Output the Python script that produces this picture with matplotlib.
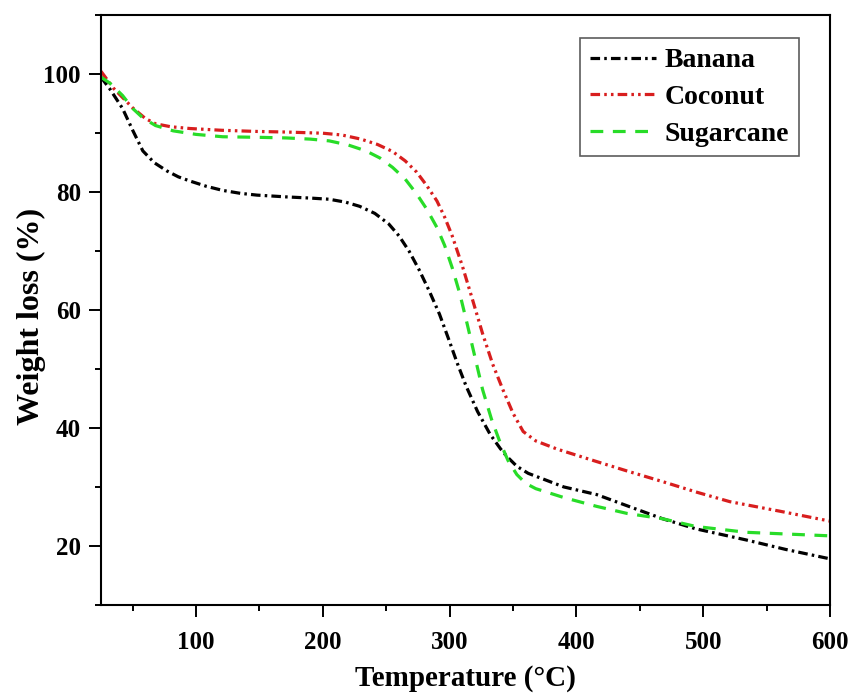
import numpy as np
import matplotlib.pyplot as plt

# temperature (deg C) and weight (%)
temp_banana = [25, 32, 42, 50, 58, 67, 77, 86, 95, 108, 121, 135, 148, 171, 190, 205,
               218, 229, 241, 252, 260, 268, 276, 284, 292, 299, 306, 313, 322, 332,
               340, 345, 353, 362, 373, 390, 416, 440, 468, 494, 534, 565, 600]
wt_banana = [99.5, 97.5, 94.2, 90.5, 87.0, 85.0, 83.6, 82.6, 81.9, 81.0, 80.3, 79.8, 79.5,
             79.2, 79.0, 78.8, 78.3, 77.6, 76.4, 74.6, 72.6, 70.0, 66.8, 63.2, 59.3,
             55.2, 51.0, 47.1, 42.8, 38.9, 36.5, 35.2, 33.5, 32.3, 31.4, 30.0, 28.7,
             26.8, 24.6, 22.9, 21.0, 19.4, 17.8]

temp_coconut = [25, 35, 50, 60, 68, 80, 95, 120, 148, 171, 200, 215, 230, 243, 255, 265,
                274, 282, 290, 296, 302, 310, 318, 326, 334, 342, 350, 358, 368, 385,
                416, 440, 468, 495, 521, 560, 600]
wt_coconut = [100.5, 97.6, 94.3, 92.5, 91.6, 91.1, 90.8, 90.5, 90.3, 90.2, 90.0, 89.7,
              89.0, 88.1, 86.9, 85.3, 83.4, 81.1, 78.5, 75.8, 72.6, 67.5, 61.8, 56.0,
              50.8, 46.5, 42.5, 39.4, 37.8, 36.4, 34.3, 32.7, 30.9, 29.1, 27.5, 25.9,
              24.2]

temp_sugar = [25, 32, 42, 50, 58, 68, 82, 100, 121, 150, 171, 190, 205, 220, 234, 245,
              255, 265, 274, 282, 290, 296, 302, 308, 314, 320, 326, 333, 339, 346,
              353, 360, 368, 390, 416, 440, 468, 494, 534, 600]
wt_sugar = [99.5, 98.5, 96.4, 94.2, 92.6, 91.3, 90.4, 89.8, 89.4, 89.3, 89.2, 89.0,
            88.7, 88.0, 87.0, 85.8, 84.2, 82.2, 79.7, 77.1, 74.0, 71.0, 67.2, 62.8,
            57.5, 52.0, 46.5, 41.5, 38.0, 34.5, 32.1, 30.6, 29.7, 28.2, 26.7, 25.5,
            24.6, 23.3, 22.3, 21.7]

plt.rcParams['font.family'] = ['Liberation Serif', 'DejaVu Serif']
plt.rcParams['font.weight'] = 'bold'

fig = plt.figure(figsize=(8.53, 6.96), dpi=100)
ax = fig.add_axes([0.1184, 0.131, 0.8546, 0.847])

ax.plot(temp_banana, wt_banana, color='black', lw=2.3,
        ls=(0, (3, 1.3, 0.8, 1.3)), label='Banana')
ax.plot(temp_coconut, wt_coconut, color='#d81e1e', lw=2.3,
        ls=(0, (3, 1.3, 0.8, 1.3, 0.8, 1.3)), label='Coconut')
ax.plot(temp_sugar, wt_sugar, color='#28dc28', lw=2.3, ls=(0, (4, 3)),
        label='Sugarcane')

ax.set_xlim(25, 600)
ax.set_ylim(10, 110)
ax.set_xticks([100, 200, 300, 400, 500, 600])
ax.set_xticks(np.arange(50, 600, 100), minor=True)
ax.set_yticks([20, 40, 60, 80, 100])
ax.set_yticks([10, 30, 50, 70, 90, 110], minor=True)
ax.tick_params(which='major', direction='out', length=8.5, width=1.4, labelsize=18)
ax.tick_params(axis='x', which='major', pad=10)
ax.tick_params(axis='y', which='major', pad=6)
ax.tick_params(which='minor', direction='out', length=4.5, width=1.4)
for lab in ax.get_xticklabels() + ax.get_yticklabels():
    lab.set_fontweight('bold')
for s in ax.spines.values():
    s.set_linewidth(1.5)

ax.set_xlabel('Temperature (°C)', fontsize=21, fontweight='bold')
ax.set_ylabel('Weight loss (%)', fontsize=23, fontweight='bold')
ax.xaxis.set_label_coords(0.5, -0.102)
ax.yaxis.set_label_coords(-0.075, 0.49)

leg = ax.legend(loc='upper right', bbox_to_anchor=(0.9575, 0.961), borderaxespad=0,
                fontsize=20, frameon=True, fancybox=False, edgecolor='#333333',
                handlelength=2.4, handletextpad=0.3, labelspacing=0.4, borderpad=0.35)
leg.get_frame().set_linewidth(1.2)
for t in leg.get_texts():
    t.set_fontweight('bold')

fig.savefig('out.png', dpi=100)
